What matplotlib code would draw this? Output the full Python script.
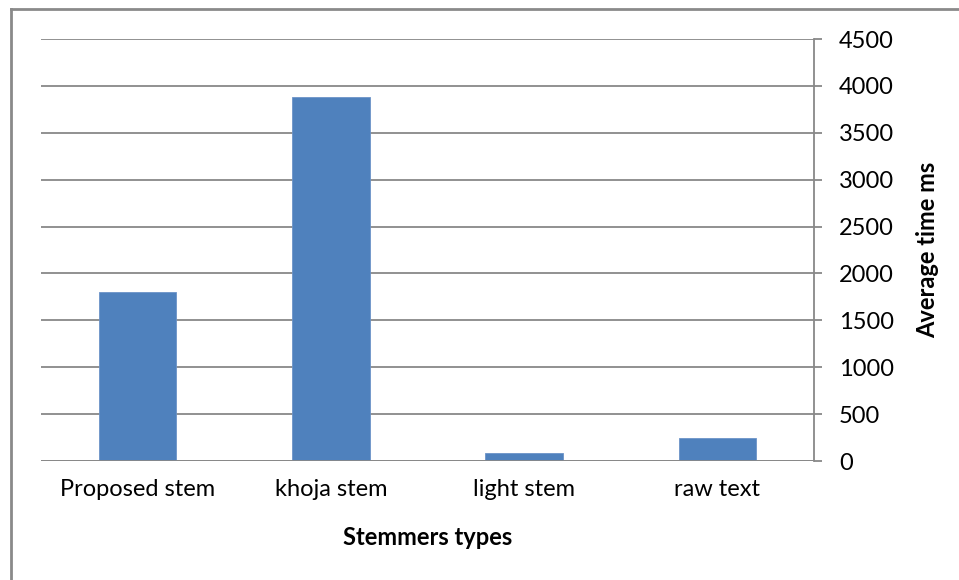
import matplotlib
matplotlib.use("Agg")
import matplotlib.pyplot as plt
from matplotlib.lines import Line2D

categories = ["Proposed stem", "khoja stem", "light stem", "raw text"]
avg_time_ms = [1800, 3880, 90, 240]
y_ticks = [0, 500, 1000, 1500, 2000, 2500, 3000, 3500, 4000, 4500]

plt.rcParams["font.family"] = ["Lato", "DejaVu Sans"]

W, H = 959, 580
fig = plt.figure(figsize=(W / 100, H / 100), dpi=100)
fig.patch.set_facecolor("white")

# plot area in pixel coordinates
x0, x1 = 41, 814
y_top, y_bot = 39, 461
ax = fig.add_axes([x0 / W, 1 - y_bot / H, (x1 - x0) / W, (y_bot - y_top) / H])

grid_col = "#888888"
bar_col = "#4F81BD"
fs = 17

ax.bar(range(len(categories)), avg_time_ms, width=0.4, color=bar_col,
       edgecolor="#6C93C8", linewidth=0.6, zorder=3)
ax.set_xlim(-0.5, len(categories) - 0.5)
ax.set_ylim(0, 4500)
ax.set_yticks(y_ticks)
ax.set_yticklabels([str(v) for v in y_ticks])
ax.yaxis.tick_right()
ax.yaxis.set_label_position("right")
ax.grid(axis="y", color=grid_col, linewidth=1.3, zorder=0)
ax.set_axisbelow(True)

for side in ("left", "top", "bottom"):
    ax.spines[side].set_visible(False)
ax.spines["right"].set_color(grid_col)
ax.spines["right"].set_linewidth(1.3)
ax.axhline(0, color=grid_col, linewidth=1.3, zorder=4)

ax.tick_params(axis="y", direction="out", length=6, width=1.3, color=grid_col,
               labelsize=fs, pad=12, labelcolor="black")
ax.set_xticks(range(len(categories)))
ax.set_xticklabels(categories)
ax.tick_params(axis="x", length=0, labelsize=fs, pad=13, labelcolor="black")

ax.set_xlabel("Stemmers types", fontsize=fs, fontweight="bold", labelpad=19)
ax.set_ylabel("Average time ms", fontsize=fs, fontweight="bold", labelpad=16)

# outer chart border (left and top edges visible)
fig.add_artist(Line2D([11 / W, 11 / W], [0, 1 - 9 / H], transform=fig.transFigure,
                      color="#8a8a8a", linewidth=2))
fig.add_artist(Line2D([11 / W, 1], [1 - 9 / H, 1 - 9 / H], transform=fig.transFigure,
                      color="#8a8a8a", linewidth=2))

fig.savefig("out.png", dpi=100, facecolor="white")
